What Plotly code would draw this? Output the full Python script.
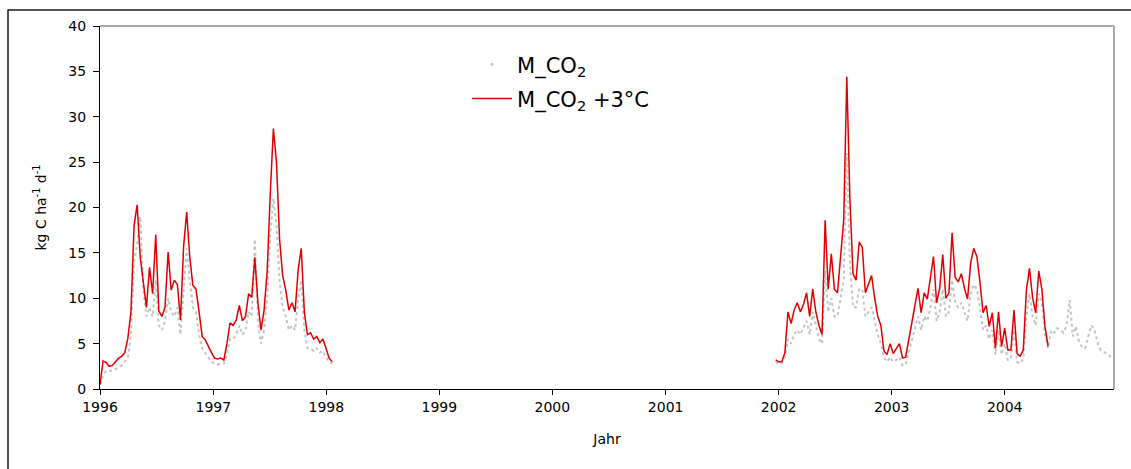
import pandas as pd
import plotly.graph_objects as go

# ---- data (10-day sampling) ----
seg1_start = "1996-01-01"
seg2_start = "2001-12-22"
step = "10D"

m_co2_seg1 = [0.5, 1.5, 2.0, 2.0, 2.0, 2.2, 2.4, 2.6, 3.0, 3.5,
              6.0, 14.0, 16.0, 19.0, 11.0, 8.0, 9.0, 8.0, 12.0, 7.0,
              6.5, 7.5, 10.0, 8.5, 8.0, 9.0, 6.0, 11.0, 15.5, 12.0,
              9.0, 8.5, 6.0, 4.5, 4.0, 3.5, 3.0, 2.8, 2.7, 2.8,
              2.8, 3.8, 5.5, 5.5, 6.0, 7.0, 6.0, 6.5, 8.5, 8.0,
              16.5, 7.5, 5.0, 6.5, 10.0, 17.0, 21.0, 18.0, 12.0, 9.0,
              8.0, 6.5, 7.0, 6.5, 10.0, 12.0, 6.5, 4.5, 4.5, 4.2,
              4.5, 4.0, 4.2, 3.5, 3.0, 2.8]

m_co2_3c_seg1 = [0.5, 3.1, 2.9, 2.5, 2.6, 3.0, 3.4, 3.6, 4.0, 5.6,
                 8.5, 18.0, 20.3, 14.5, 12.0, 9.0, 13.4, 10.5, 17.0, 8.6,
                 8.0, 9.0, 15.1, 10.9, 12.0, 11.5, 7.6, 15.7, 19.5, 14.5,
                 11.4, 11.0, 8.5, 5.8, 5.4, 4.6, 4.0, 3.4, 3.3, 3.4,
                 3.2, 5.0, 7.3, 7.0, 7.6, 9.2, 7.5, 8.0, 10.5, 10.1,
                 14.5, 9.5, 6.5, 8.7, 13.0, 21.6, 28.7, 25.0, 16.5, 12.5,
                 10.9, 8.7, 9.5, 8.5, 13.1, 15.5, 8.5, 6.0, 6.2, 5.5,
                 5.8, 5.1, 5.5, 4.5, 3.4, 3.0]

m_co2_seg2 = [3.0, 2.8, 2.8, 3.5, 5.5, 5.0, 6.0, 6.5, 6.0, 6.8,
              7.5, 6.0, 8.5, 7.0, 5.5, 5.0, 13.0, 8.5, 10.0, 8.0,
              8.0, 10.0, 12.0, 26.0, 14.0, 9.0, 9.0, 11.0, 11.0, 8.0,
              8.5, 9.0, 7.5, 6.0, 5.0, 3.5, 3.0, 3.5, 3.0, 3.2,
              3.5, 2.6, 2.7, 4.0, 5.5, 6.5, 8.0, 6.5, 8.0, 7.5,
              9.0, 11.0, 7.5, 8.5, 11.0, 8.0, 8.5, 12.0, 9.5, 9.0,
              9.5, 8.5, 7.5, 10.5, 11.5, 11.0, 9.0, 6.5, 7.0, 5.5,
              6.5, 3.8, 6.5, 3.8, 5.0, 3.2, 3.3, 6.5, 3.0, 2.8,
              3.3, 8.0, 10.5, 8.0, 7.0, 10.5, 9.5, 6.0, 4.5, 6.5,
              6.2, 6.7, 6.5, 6.2, 7.0, 9.8, 5.8, 6.9, 5.2, 4.6,
              4.5, 5.8, 7.0, 6.5, 5.1, 4.3, 4.1, 3.9, 3.6, 3.4]

m_co2_3c_seg2 = [3.2, 3.0, 3.0, 4.0, 8.5, 7.2, 8.7, 9.5, 8.5, 9.3,
                 10.6, 8.0, 11.0, 8.5, 7.0, 6.0, 18.6, 11.0, 14.9, 11.0,
                 10.6, 14.9, 18.6, 34.4, 21.0, 12.7, 12.0, 16.2, 15.6, 10.6,
                 11.5, 12.5, 10.0, 8.0, 7.0, 4.2, 3.8, 5.0, 3.9, 4.5,
                 5.0, 3.4, 3.5, 5.4, 7.3, 9.0, 11.1, 8.4, 10.6, 9.9,
                 12.0, 14.6, 9.5, 11.1, 14.8, 10.0, 10.6, 17.2, 12.3, 11.8,
                 12.7, 11.1, 9.9, 13.9, 15.5, 14.6, 11.8, 8.4, 9.2, 6.9,
                 8.4, 4.5, 8.5, 4.7, 6.7, 4.3, 4.3, 8.7, 3.9, 3.6,
                 4.3, 10.9, 13.3, 10.1, 8.4, 13.0, 11.0, 6.9, 4.7]

year_ticks = ["1996", "1997", "1998", "1999", "2000", "2001", "2002", "2003", "2004"]
x_range = ["1996-01-01", "2004-12-19"]
y_ticks = [0, 5, 10, 15, 20, 25, 30, 35, 40]

# ---- build series ----
def dates(start, n):
    return list(pd.date_range(start, periods=n, freq=step))

gx = dates(seg1_start, len(m_co2_seg1)) + [None] + dates(seg2_start, len(m_co2_seg2))
gy = m_co2_seg1 + [None] + m_co2_seg2
rx = dates(seg1_start, len(m_co2_3c_seg1)) + [None] + dates(seg2_start, len(m_co2_3c_seg2))
ry = m_co2_3c_seg1 + [None] + m_co2_3c_seg2

FONT = "DejaVu Sans, Verdana, sans-serif"
fig = go.Figure()
fig.add_trace(go.Scatter(x=gx, y=gy, mode="lines", connectgaps=False,
                         line=dict(color="#c4c4c4", width=2, dash="dot"),
                         showlegend=False, hoverinfo="skip"))
fig.add_trace(go.Scatter(x=[None], y=[None], mode="markers",
                         marker=dict(color="#c4c4c4", size=3),
                         name="M_CO<sub>2</sub>", legendgroup="a"))
fig.add_trace(go.Scatter(x=rx, y=ry, mode="lines", connectgaps=False,
                         line=dict(color="#e00000", width=1.5),
                         name="M_CO<sub>2</sub> +3°C", legendgroup="b"))

fig.update_layout(
    width=1131, height=469,
    margin=dict(l=100, r=17, t=26, b=80),
    paper_bgcolor="white", plot_bgcolor="white",
    font=dict(family=FONT, size=14, color="#000"),
    legend=dict(x=0.362, y=0.95, xanchor="left", yanchor="top",
                bgcolor="rgba(0,0,0,0)", font=dict(size=21, color="#000"),
                tracegroupgap=4, itemwidth=40),
    xaxis=dict(type="date", range=x_range,
               tickvals=[f"{y}-01-01" for y in year_ticks], ticktext=year_ticks,
               showgrid=False, zeroline=False,
               showline=True, linecolor="#000", linewidth=1,
               ticks="outside", ticklen=5, tickcolor="#000",
               title=dict(text="Jahr", font=dict(size=14), standoff=20)),
    yaxis=dict(range=[0, 40], tickvals=y_ticks,
               showgrid=False, zeroline=False,
               showline=True, linecolor="#000", linewidth=1,
               ticks="outside", ticklen=6, tickcolor="#000",
               ticklabelstandoff=4,
               title=dict(text="kg C ha<sup>-1</sup> d<sup>-1</sup>",
                          font=dict(size=14), standoff=18)),
    shapes=[
        # gray plot-area border (top & right)
        dict(type="line", xref="paper", yref="paper", x0=0, x1=1, y0=1, y1=1,
             line=dict(color="#a8a8a8", width=2)),
        dict(type="line", xref="paper", yref="paper", x0=1, x1=1, y0=0, y1=1,
             line=dict(color="#a8a8a8", width=2)),
        # outer chart frame
        dict(type="rect", xref="paper", yref="paper",
             x0=(8 - 100) / 1014, x1=(1140 - 100) / 1014,
             y0=(389 - 480) / 363, y1=(389 - 10) / 363,
             line=dict(color="#1a1a1a", width=1.5), fillcolor="rgba(0,0,0,0)"),
    ],
)

fig.write_html("out.html")
